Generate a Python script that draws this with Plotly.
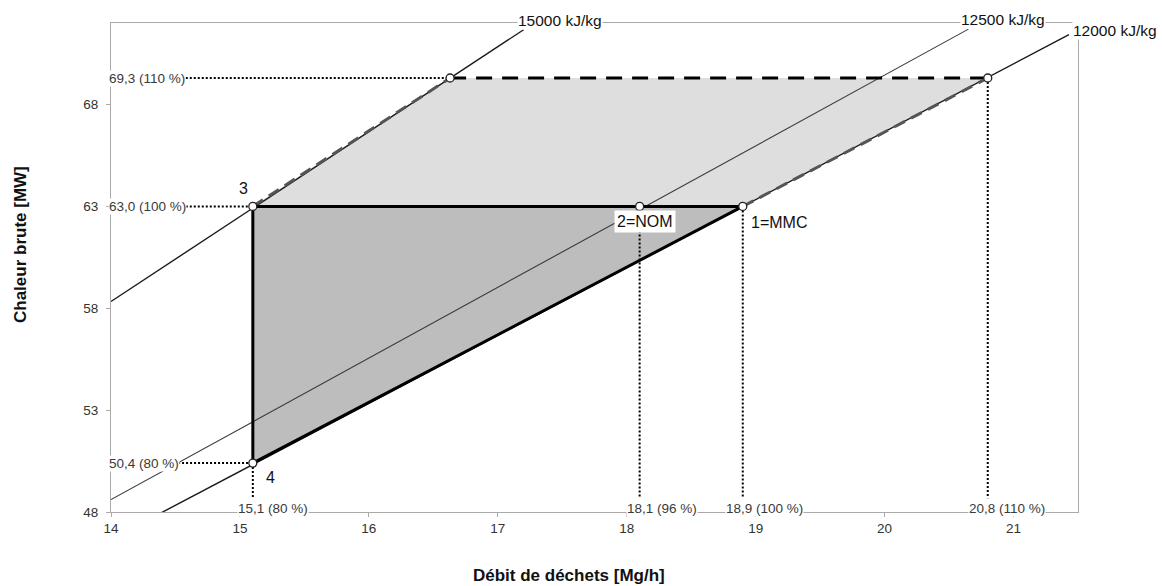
import plotly.graph_objects as go

# ---- data ----
x_ticks = [14, 15, 16, 17, 18, 19, 20, 21]
y_ticks = [48, 53, 58, 63, 68]

# iso-LHV lines (endpoints)
lhv_names = ["15000 kJ/kg", "12500 kJ/kg", "12000 kJ/kg"]
lhv_x = [[14.0, 17.2], [14.0, 20.65], [14.38, 21.43]]
lhv_y = [[58.33, 71.67], [48.61, 71.7], [47.93, 71.43]]

# operating points
pt_names = ["1=MMC", "2=NOM", "3", "4", "", ""]
pt_x = [18.9, 18.1, 15.1, 15.1, 16.63, 20.8]
pt_y = [63.0, 63.0, 63.0, 50.4, 69.3, 69.3]

# areas
upper_x = [15.1, 16.63, 20.8, 18.9, 15.1]
upper_y = [63.0, 69.3, 69.3, 63.0, 63.0]
lower_x = [15.1, 18.9, 15.1, 15.1]
lower_y = [63.0, 63.0, 50.4, 63.0]

# reference labels
left_labels = ["69,3 (110 %)", "63,0 (100 %)", "50,4 (80 %)"]
left_label_y = [69.3, 63.0, 50.4]
left_line_x0 = [14.58, 14.58, 14.52]
left_line_x1 = [16.63, 15.1, 15.1]

bottom_labels = ["15,1 (80 %)", "18,1 (96 %)", "18,9 (100 %)", "20,8 (110 %)"]
bottom_label_x = [15.26, 18.27, 19.07, 20.95]
vline_x = [15.1, 18.1, 18.9, 20.8]
vline_ytop = [50.4, 63.0, 63.0, 69.3]
vline_ybot = 48.67

FONT = "Arial, Liberation Sans, sans-serif"

# ---- layout geometry (body margin removed, figure fills the page) ----
W, H = 1162, 586
L, T = 111, 23
R = W - 1078
B = H - 512
pw, ph = W - L - R, H - T - B


def px(sx):
    return (sx - L) / pw


def py(sy):
    return (H - B - sy) / ph


fig = go.Figure()

# fills
fig.add_trace(go.Scatter(x=upper_x, y=upper_y, fill="toself", fillcolor="#dedede",
                         mode="none", hoverinfo="skip", showlegend=False))
fig.add_trace(go.Scatter(x=lower_x, y=lower_y, fill="toself", fillcolor="#bdbdbd",
                         mode="none", hoverinfo="skip", showlegend=False))

# iso lines
for i, (xs, ys) in enumerate(zip(lhv_x, lhv_y)):
    fig.add_trace(go.Scatter(x=xs, y=ys, mode="lines",
                             line=dict(color="#1a1a1a" if i != 1 else "#3a3a3a",
                                       width=1.4 if i != 1 else 1.1),
                             hoverinfo="skip", showlegend=False))

# dotted reference lines
DOT = dict(color="#000", width=2, dash="2px,2px")
for y, x0, x1 in zip(left_label_y, left_line_x0, left_line_x1):
    fig.add_trace(go.Scatter(x=[x0, x1], y=[y, y], mode="lines", line=DOT,
                             hoverinfo="skip", showlegend=False))
for x, yt in zip(vline_x, vline_ytop):
    fig.add_trace(go.Scatter(x=[x, x], y=[yt, vline_ybot], mode="lines", line=DOT,
                             hoverinfo="skip", showlegend=False))

# thick outline of lower triangle
fig.add_trace(go.Scatter(x=[pt_x[0], pt_x[2], pt_x[3], pt_x[0]],
                         y=[pt_y[0], pt_y[2], pt_y[3], pt_y[0]], mode="lines",
                         line=dict(color="#000", width=3), hoverinfo="skip", showlegend=False))
# dashed top line
fig.add_trace(go.Scatter(x=[pt_x[4], pt_x[5]], y=[pt_y[4], pt_y[5]], mode="lines",
                         line=dict(color="#000", width=3, dash="16px,10px"),
                         hoverinfo="skip", showlegend=False))
# gray dashed side edges
fig.add_trace(go.Scatter(x=[pt_x[2], pt_x[4]], y=[pt_y[2], pt_y[4]], mode="lines",
                         line=dict(color="#555", width=3, dash="12px,7px"),
                         hoverinfo="skip", showlegend=False))
fig.add_trace(go.Scatter(x=[pt_x[0], pt_x[5]], y=[pt_y[0], pt_y[5]], mode="lines",
                         line=dict(color="#555", width=3, dash="12px,7px"),
                         hoverinfo="skip", showlegend=False))

# markers
fig.add_trace(go.Scatter(x=pt_x, y=pt_y, mode="markers",
                         marker=dict(size=8, color="white", line=dict(color="#222", width=1.3)),
                         hoverinfo="skip", showlegend=False))

ann = []
# iso-line labels (screen positions)
lhv_label_px = [(560, 20.5), (1003, 19.5), (1115, 30.5)]
for name, (sx, sy) in zip(lhv_names, lhv_label_px):
    ann.append(dict(x=px(sx), y=py(sy), xref="paper", yref="paper", text=name,
                    xanchor="center", yanchor="middle",
                    showarrow=False, font=dict(family=FONT, size=15.5, color="#111"),
                    bgcolor="white", borderpad=0))
for name, y in zip(left_labels, left_label_y):
    ann.append(dict(x=14.0, y=y, xref="x", yref="y", text=name, showarrow=False,
                    xanchor="left", yanchor="middle", xshift=-3,
                    font=dict(family=FONT, size=13.5, color="#3a3a3a"),
                    bgcolor="white", borderpad=0))
for name, x in zip(bottom_labels, bottom_label_x):
    ann.append(dict(x=x, y=48.0, xref="x", yref="y", text=name, showarrow=False,
                    xanchor="center", yanchor="middle", yshift=4,
                    font=dict(family=FONT, size=13.5, color="#3a3a3a"),
                    bgcolor="white", borderpad=0))
# point labels
ann.append(dict(x=15.03, y=63.9, xref="x", yref="y", text=pt_names[2], showarrow=False,
                xanchor="center", yanchor="middle",
                font=dict(family=FONT, size=16, color="#111")))
ann.append(dict(x=15.24, y=49.67, xref="x", yref="y", text=pt_names[3], showarrow=False,
                xanchor="center", yanchor="middle",
                font=dict(family=FONT, size=16, color="#111")))
ann.append(dict(x=18.14, y=62.27, xref="x", yref="y", text=pt_names[1], showarrow=False,
                xanchor="center", yanchor="middle",
                font=dict(family=FONT, size=16, color="#111"), bgcolor="white", borderpad=2))
ann.append(dict(x=19.18, y=62.2, xref="x", yref="y", text=pt_names[0], showarrow=False,
                xanchor="center", yanchor="middle",
                font=dict(family=FONT, size=16, color="#111")))
# axis titles
ann.append(dict(x=px(20), y=py(245), xref="paper", yref="paper",
                text="<b>Chaleur brute [MW]</b>", showarrow=False, textangle=-90,
                xanchor="center", yanchor="middle",
                font=dict(family=FONT, size=17, color="#111")))
ann.append(dict(x=px(569), y=py(575), xref="paper", yref="paper",
                text="<b>Débit de déchets [Mg/h]</b>", showarrow=False,
                xanchor="center", yanchor="middle",
                font=dict(family=FONT, size=17, color="#111")))

fig.update_layout(
    width=W, height=H,
    margin=dict(l=L, r=R, t=T, b=B),
    plot_bgcolor="white", paper_bgcolor="white",
    font=dict(family=FONT, size=13.5, color="#333"),
    annotations=ann,
    hovermode=False,
    xaxis=dict(range=[14, 21.5], tickvals=x_ticks, showgrid=False, zeroline=False,
               showline=True, mirror=True, linecolor="#aaa", linewidth=1.2,
               ticks="outside", ticklen=4, tickcolor="#aaa",
               tickfont=dict(family=FONT, size=13.5, color="#333")),
    yaxis=dict(range=[48, 72], tickvals=y_ticks, showgrid=False, zeroline=False,
               showline=True, mirror=True, linecolor="#aaa", linewidth=1.2,
               ticks="outside", ticklen=4, tickcolor="#aaa", ticklabelstandoff=5,
               tickfont=dict(family=FONT, size=13.5, color="#333")),
)

fig.write_html("out.html", config={"displayModeBar": False},
               post_script="document.body.style.margin='0';document.body.style.overflow='hidden';")
